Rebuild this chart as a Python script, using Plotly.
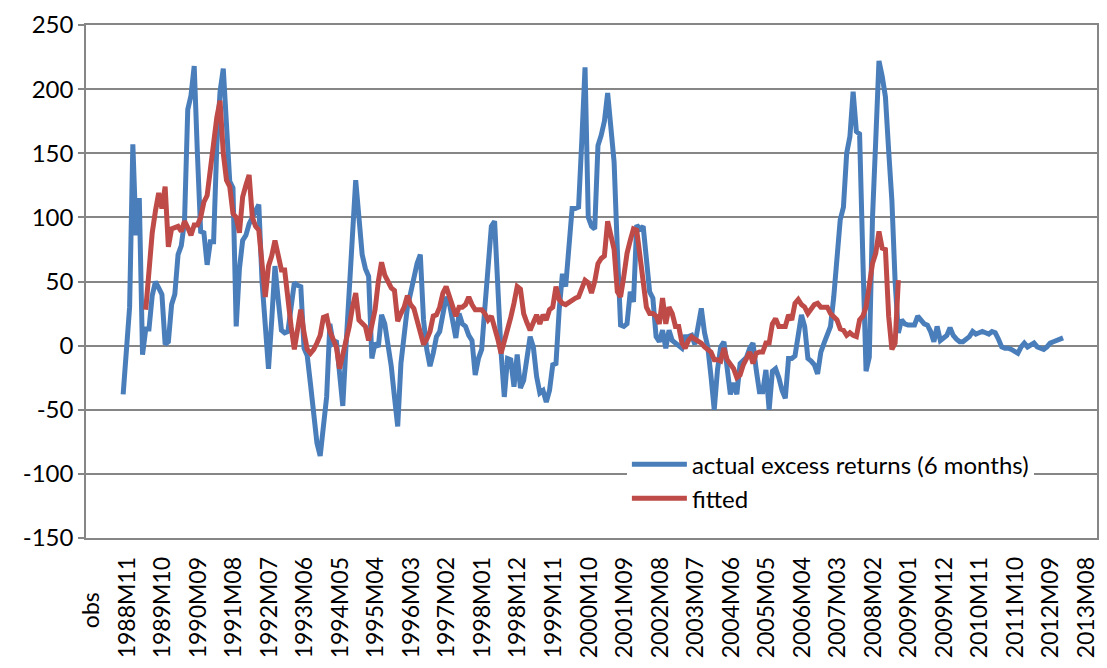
import plotly.graph_objects as go

# ---- categories: "obs" header row + monthly labels 1988M01 .. 2013M12 ----
months = [f"{y}M{m:02d}" for y in range(1988, 2014) for m in range(1, 13)]
categories = ["obs"] + months
tick_labels = categories[::11]
y_ticks = [-150, -100, -50, 0, 50, 100, 150, 200, 250]

# actual excess returns (6 months), 1988M11 .. 2013M02
actual_start = "1988M11"
actual = [
    -38, -5, 30, 157, 86, 115, -7, 13, 13, 39,
    50, 45, 40, 1, 3, 32, 40, 71, 78, 97,
    184, 195, 218, 149, 89, 88, 63, 81, 81, 156,
    198, 216, 162, 128, 123, 15, 60, 82, 86, 95,
    100, 105, 110, 50, 10, -18, 20, 62, 36, 12,
    10, 11, 30, 49, 47, 46, -2, -8, -30, -55,
    -76, -86, -60, -40, 17, 2, 4, -20, -47, 0,
    49, 95, 129, 100, 71, 60, 54, -10, 2, -1,
    24, 17, 2, -16, -40, -63, -14, 7, 30, 41,
    55, 64, 71, 20, -3, -16, -6, 7, 11, 25,
    38, 33, 20, 6, 25, 17, 15, 8, 4, -23,
    -10, -3, 30, 69, 93, 97, 38, -5, -40, -10,
    -11, -32, -7, -33, -27, -10, 7, -1, -24, -37,
    -35, -44, -35, -15, -14, 28, 56, 46, 75, 107,
    107, 108, 160, 217, 100, 93, 91, 156, 164, 175,
    197, 167, 143, 75, 16, 15, 17, 42, 34, 94,
    91, 93, 65, 42, 37, 7, 3, 12, -2, 12,
    4, 2, -1, -2, 7, 7, 8, 1, 15, 29,
    10, -1, -24, -50, -19, -1, 3, -19, -38, -29,
    -38, -14, -12, -9, -2, 2, -19, -36, -36, -19,
    -50, -20, -18, -25, -35, -41, -10, -10, -8, 10,
    24, 15, -10, -12, -15, -22, -5, 2, 10, 15,
    38, 75, 98, 108, 150, 163, 198, 167, 165, 69,
    -20, -9, 100, 160, 222, 210, 194, 152, 113, 50,
    10, 20, 17, 16, 16, 16, 23, 20, 17, 16,
    11, 3, 15, 4, 6, 8, 14, 8, 5, 3,
    3, 5, 7, 11, 9, 10, 11, 10, 9, 11,
    10, 5, -1, -2, -2, -3, -5, -6, -1, 2,
    -1, 1, 2, -1, -2, -3, -1, 2, 3, 4,
    5, 6,
]

# fitted, 1989M06 .. 2008M11
fitted_start = "1989M06"
fitted = [
    28, 58, 88,
    105, 119, 107, 124, 77, 91, 92, 93, 89, 97,
    92, 86, 94, 94, 100, 112, 117, 140, 162, 178,
    191, 150, 129, 124, 103, 100, 88, 116, 125, 133,
    100, 93, 90, 65, 38, 62, 70, 82, 70, 59,
    59, 33, 15, -3, 15, 28, 10, -3, -6, -3,
    2, 8, 22, 23, 11, 5, -1, -18, -8, 2,
    15, 30, 41, 20, 18, 15, 4, 15, 28, 50,
    65, 55, 49, 45, 43, 19, 25, 30, 39, 32,
    29, 20, 10, 1, 5, 11, 23, 24, 30, 41,
    46, 38, 30, 23, 30, 30, 32, 38, 32, 28,
    28, 28, 25, 20, 23, 15, 5, -6, 3, 11,
    22, 33, 46, 44, 25, 18, 12, 18, 24, 17,
    24, 20, 28, 30, 46, 36, 33, 32, 34, 36,
    37, 38, 45, 51, 49, 41, 50, 64, 68, 70,
    97, 85, 75, 42, 38, 54, 72, 82, 91, 90,
    69, 45, 30, 25, 25, 23, 17, 37, 17, 30,
    25, 15, 15, 2, -2, 4, 7, 5, 4, 2,
    -1, -3, -5, -11, -11, -12, -2, -11, -15, -18,
    -25, -23, -15, -9, -5, -14, -6, -5, -5, 2,
    2, 17, 21, 15, 15, 15, 24, 20, 33, 36,
    32, 30, 25, 28, 32, 33, 30, 30, 30, 25,
    23, 20, 13, 12, 8, 10, 8, 7, 20, 23,
    30, 45, 64, 72, 89, 76, 75, 23, -3, 2,
    51,
]


def on_categories(start, values):
    # pad a series with gaps so it lines up with the full category list
    i0 = categories.index(start)
    ys = [None] * len(categories)
    ys[i0:i0 + len(values)] = values
    return ys


FONT = "Lato"
GRID = "#868686"

fig = go.Figure()
fig.add_trace(go.Scatter(
    x=categories, y=on_categories(actual_start, actual),
    mode="lines", name="actual excess returns (6 months)",
    line=dict(color="#4A7EBB", width=5),
))
fig.add_trace(go.Scatter(
    x=categories, y=on_categories(fitted_start, fitted),
    mode="lines", name="fitted",
    line=dict(color="#BE4B48", width=5),
))

# the page body has an 8px margin, so the figure is sized to sit inside it
fig.update_layout(
    width=1091, height=652,
    margin=dict(l=78, r=2, t=17, b=122),
    paper_bgcolor="white", plot_bgcolor="white",
    font=dict(family=FONT, size=24, color="black"),
    showlegend=True,
    legend=dict(
        x=0.535, y=0.187, xanchor="left", yanchor="top",
        bgcolor="white", font=dict(size=24), tracegroupgap=0,
        itemwidth=55,
    ),
    xaxis=dict(
        type="category", categoryorder="array", categoryarray=categories,
        range=[-0.5, len(categories) - 0.5],
        tickmode="array", tickvals=tick_labels,
        ticktext=["obs" + "\u00a0" * 6] + tick_labels[1:],
        tickangle=-90, ticklabelstandoff=8, ticklabelshift=4,
        tickfont=dict(size=23),
        showgrid=False, zeroline=False,
        showline=True, linecolor=GRID, linewidth=1.5, mirror=True,
        ticks="", automargin=False,
    ),
    yaxis=dict(
        range=[-150, 250],
        tickmode="array", tickvals=y_ticks, ticktext=[str(v) for v in y_ticks],
        showgrid=True, gridcolor=GRID, gridwidth=1.5,
        zeroline=False,
        showline=True, linecolor=GRID, linewidth=1.5, mirror=True,
        ticks="outside", ticklen=6, tickcolor=GRID, tickwidth=1.5,
        automargin=False,
    ),
)

fig.write_html("out.html")
